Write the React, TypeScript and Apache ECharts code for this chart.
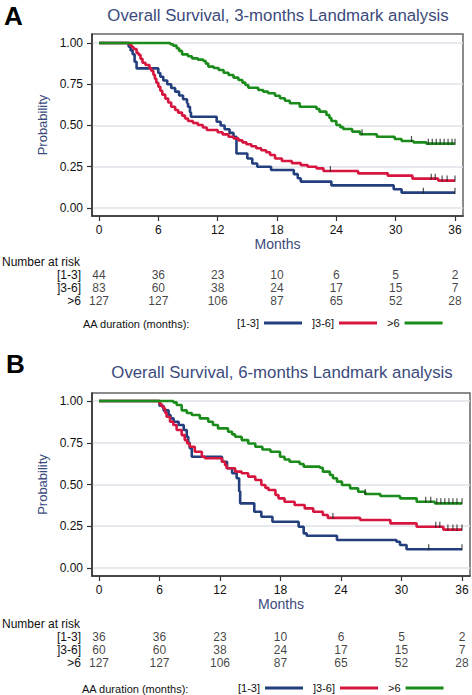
import React, { useEffect, useRef } from 'react';
import * as echarts from 'echarts';

// ---------- data ----------
const months = [0, 6, 12, 18, 24, 30, 36];
const probTicks = [0, 0.25, 0.5, 0.75, 1];
const groups = ['[1-3]', ']3-6]', '>6'];
const colors = ['#243f7e', '#d6163f', '#1b8c1b'];

const titleA = 'Overall Survival, 3-months Landmark analysis';
const titleB = 'Overall Survival, 6-months Landmark analysis';

// Panel A: Kaplan-Meier step points [month, probability]
const kmA_13 = [[0,1],[3.0,0.977],[3.2,0.955],[3.4,0.932],[3.6,0.886],[3.8,0.846],[6.0,0.818],[6.2,0.795],[6.5,0.773],[6.9,0.75],[7.3,0.727],[7.7,0.705],[8.1,0.682],[8.5,0.659],[8.9,0.636],[9.0,0.614],[9.2,0.58],[9.3,0.553],[11.9,0.523],[12.3,0.5],[12.7,0.477],[13.2,0.455],[13.6,0.432],[13.9,0.33],[15.0,0.30],[15.5,0.27],[16.0,0.25],[17.4,0.23],[19.7,0.205],[20.1,0.18],[20.4,0.16],[23.5,0.137],[29.8,0.114],[30.6,0.093],[36,0.093]];
const kmA_36 = [[0,1],[3.1,0.988],[3.3,0.976],[3.5,0.964],[3.8,0.94],[4.0,0.928],[4.2,0.904],[4.4,0.88],[4.7,0.867],[5.1,0.847],[5.3,0.831],[5.5,0.807],[5.65,0.783],[5.8,0.759],[6.0,0.735],[6.2,0.711],[6.4,0.687],[6.7,0.663],[7.0,0.639],[7.3,0.614],[7.7,0.594],[8.0,0.578],[8.4,0.56],[8.7,0.542],[9.0,0.527],[9.5,0.515],[10.0,0.503],[10.5,0.488],[10.9,0.473],[12.0,0.459],[12.5,0.446],[13.1,0.432],[13.6,0.422],[14.1,0.41],[14.5,0.398],[14.9,0.386],[15.4,0.374],[15.9,0.362],[16.4,0.35],[16.9,0.338],[17.3,0.321],[17.8,0.3],[18.5,0.285],[19.5,0.272],[20.4,0.26],[21.1,0.25],[22.0,0.24],[22.7,0.224],[26.2,0.21],[29.2,0.196],[31.7,0.178],[34.3,0.166],[36,0.166]];
const kmA_6 = [[0,1],[7.2,0.992],[7.5,0.984],[7.85,0.968],[8.1,0.952],[8.4,0.931],[9.0,0.92],[9.4,0.907],[10.0,0.899],[10.55,0.891],[10.8,0.875],[11.05,0.857],[11.6,0.848],[12.1,0.836],[12.6,0.82],[13.1,0.806],[13.6,0.79],[14.1,0.776],[14.5,0.76],[14.8,0.745],[15.1,0.729],[16.1,0.715],[16.6,0.705],[17.1,0.695],[17.8,0.68],[18.3,0.665],[18.8,0.65],[19.3,0.635],[20.3,0.614],[22.0,0.6],[22.3,0.584],[23.0,0.564],[23.3,0.545],[23.5,0.527],[24.0,0.503],[24.4,0.49],[24.7,0.479],[25.6,0.463],[26.4,0.447],[28.1,0.432],[29.9,0.418],[30.6,0.406],[31.8,0.398],[33.1,0.39],[36,0.39]];

// Panel B
const kmB_13 = [[0,1],[6.0,0.972],[6.4,0.944],[6.9,0.916],[7.1,0.896],[7.4,0.876],[7.9,0.856],[8.4,0.826],[8.7,0.786],[8.85,0.75],[9.0,0.717],[9.2,0.666],[12.2,0.636],[12.7,0.597],[13.2,0.567],[13.65,0.537],[13.9,0.46],[14.0,0.387],[15.4,0.337],[16.1,0.307],[17.2,0.277],[19.8,0.247],[20.3,0.207],[20.6,0.193],[23.6,0.168],[29.5,0.157],[29.85,0.138],[30.5,0.112],[36,0.112]];
const kmB_36 = [[0,1],[6.0,0.983],[6.2,0.967],[6.4,0.956],[6.55,0.93],[6.7,0.906],[7.04,0.876],[7.37,0.856],[7.7,0.826],[8.2,0.796],[8.5,0.766],[8.75,0.746],[9.0,0.726],[9.5,0.696],[10.2,0.666],[10.5,0.657],[12.2,0.636],[12.5,0.615],[12.66,0.597],[13.5,0.577],[14.15,0.567],[14.8,0.547],[15.5,0.527],[16.1,0.497],[16.5,0.48],[16.8,0.467],[17.5,0.437],[17.8,0.417],[18.4,0.397],[19.4,0.377],[20.4,0.357],[21.25,0.337],[22.2,0.317],[22.7,0.3],[25.9,0.287],[28.9,0.267],[31.5,0.247],[34.15,0.23],[36,0.23]];
const kmB_6 = [[0,1],[7.37,0.992],[7.7,0.976],[8.2,0.944],[8.7,0.928],[9.2,0.916],[10.0,0.896],[10.84,0.876],[11.3,0.856],[11.8,0.836],[12.8,0.816],[13.2,0.8],[13.5,0.786],[14.15,0.766],[14.8,0.746],[15.5,0.726],[16.2,0.71],[17.0,0.696],[17.95,0.666],[18.4,0.65],[18.9,0.636],[19.9,0.623],[20.3,0.607],[21.9,0.6],[22.2,0.577],[22.9,0.557],[23.2,0.537],[23.6,0.517],[24.1,0.497],[24.9,0.477],[25.7,0.457],[26.4,0.443],[27.9,0.431],[29.85,0.417],[31.5,0.397],[33.3,0.387],[36,0.387]];

// censoring marks
const censA_13 = [[32.8,0.093],[36,0.093]];
const censA_36 = [[23.4,0.224],[33.6,0.178],[34.0,0.178],[34.7,0.166],[35.2,0.166],[36,0.166]];
const censA_6 = [[26.6,0.447],[31.6,0.406],[33.3,0.39],[33.7,0.39],[34.1,0.39],[34.5,0.39],[34.9,0.39],[35.3,0.39],[35.7,0.39],[36,0.39]];
const censB_13 = [[32.7,0.112],[36,0.112]];
const censB_36 = [[23.2,0.3],[33.4,0.247],[33.8,0.247],[34.6,0.23],[35.1,0.23],[35.5,0.23],[36,0.23]];
const censB_6 = [[26.4,0.443],[32.4,0.397],[32.9,0.397],[33.5,0.387],[33.9,0.387],[34.3,0.387],[34.7,0.387],[35.1,0.387],[35.5,0.387],[36,0.387]];

// numbers at risk
const riskA_13 = [44, 36, 23, 10, 6, 5, 2];
const riskA_36 = [83, 60, 38, 24, 17, 15, 7];
const riskA_6 = [127, 127, 106, 87, 65, 52, 28];
const riskB_13 = [36, 36, 23, 10, 6, 5, 2];
const riskB_36 = [60, 60, 38, 24, 17, 15, 7];
const riskB_6 = [127, 127, 106, 87, 65, 52, 28];

const FONT = '"Liberation Sans", Arial, sans-serif';
const TITLE_COLOR = '#3b4a7c';

export default function App() {
  const ref = useRef<HTMLDivElement>(null);

  useEffect(() => {
    if (!ref.current) return;
    const chart = echarts.init(ref.current, null, { renderer: 'svg' });

    const panels = [
      { km: [kmA_13, kmA_36, kmA_6], cens: [censA_13, censA_36, censA_6], risk: [riskA_13, riskA_36, riskA_6] },
      { km: [kmB_13, kmB_36, kmB_6], cens: [censB_13, censB_36, censB_6], risk: [riskB_13, riskB_36, riskB_6] },
    ];

    const grids = [
      { left: 92, right: 9, top: 34, height: 182 },
      { left: 92, right: 9, top: 268.5, height: 39 },
      { left: 92, right: 2, top: 393, height: 183 },
      { left: 92, right: 2, top: 630.5, height: 39 },
    ];
    const xRange = [
      { min: -0.708, max: 36.809 },
      { min: -0.694, max: 36.793 },
    ];
    const yRange = [
      { min: -0.0485, max: 1.0545 },
      { min: -0.048, max: 1.048 },
    ];

    const xAxis: any[] = [];
    const yAxis: any[] = [];
    const series: any[] = [];

    panels.forEach((p, pi) => {
      const gPlot = pi * 2;
      const gRisk = pi * 2 + 1;
      xAxis[gPlot] = {
        type: 'value', gridIndex: gPlot, min: xRange[pi].min, max: xRange[pi].max,
        name: 'Months', nameLocation: 'middle', nameGap: 20,
        nameTextStyle: { color: TITLE_COLOR, fontSize: 14, fontFamily: FONT },
        axisLine: { show: true, onZero: false, lineStyle: { color: '#333', width: 1.6 } },
        axisTick: { show: true, length: 5, customValues: months, lineStyle: { color: '#333', width: 1.2 } },
        axisLabel: { customValues: months, margin: 8, fontSize: 12, color: '#111', fontFamily: FONT },
        splitLine: { show: false },
      };
      xAxis[gRisk] = {
        type: 'value', gridIndex: gRisk, min: xRange[pi].min, max: xRange[pi].max, show: false,
      };
      yAxis[gPlot] = {
        type: 'value', gridIndex: gPlot, min: yRange[pi].min, max: yRange[pi].max,
        name: 'Probability', nameLocation: 'middle', nameGap: 38,
        nameTextStyle: { color: TITLE_COLOR, fontSize: 13, fontFamily: FONT },
        axisLine: { show: true, onZero: false, lineStyle: { color: '#333', width: 1.6 } },
        axisTick: { show: true, length: 5, customValues: probTicks, lineStyle: { color: '#333', width: 1.2 } },
        axisLabel: { customValues: probTicks, margin: 9, fontSize: 12, color: '#111', fontFamily: FONT,
          formatter: (v: number) => v.toFixed(2) },
        splitLine: { show: true, lineStyle: { color: '#dfe2ea', width: 1.5 } },
      };
      yAxis[gRisk] = {
        type: 'category', gridIndex: gRisk, data: groups, inverse: true,
        axisLine: { show: false }, axisTick: { show: false }, splitLine: { show: false },
        axisLabel: { interval: 0, margin: 11, fontSize: 12, color: '#111', fontFamily: FONT },
      };

      p.km.forEach((d, gi) => {
        series.push({
          type: 'line', name: groups[gi], step: 'end', data: d,
          xAxisIndex: gPlot, yAxisIndex: gPlot,
          symbol: 'none', showSymbol: false, silent: true,
          color: colors[gi],
          lineStyle: { color: colors[gi], width: 2.6 },
          z: 3 + gi,
        });
      });
      p.cens.forEach((d, gi) => {
        series.push({
          type: 'scatter', name: 'cens' + pi + gi, data: d,
          xAxisIndex: gPlot, yAxisIndex: gPlot,
          symbol: 'rect', symbolSize: [1.2, 6], symbolOffset: [0, -2],
          itemStyle: { color: '#222' }, silent: true, z: 10,
        });
      });
      const riskData: any[] = [];
      p.risk.forEach((row, gi) => {
        row.forEach((v, mi) => riskData.push([months[mi], groups[gi], v]));
      });
      series.push({
        type: 'scatter', name: 'risk' + pi, data: riskData,
        xAxisIndex: gRisk, yAxisIndex: gRisk,
        symbolSize: 1, itemStyle: { color: 'rgba(0,0,0,0)' }, silent: true,
        encode: { x: 0, y: 1 },
        label: { show: true, position: 'inside', formatter: (pp: any) => String(pp.value[2]),
          fontSize: 12, color: '#111', fontFamily: FONT },
      });
    });

    const legendCommon = {
      data: groups, icon: 'rect', itemWidth: 38, itemHeight: 3, align: 'right', itemGap: 10,
      selectedMode: false, padding: 0,
      textStyle: { fontSize: 11, color: '#111', fontFamily: FONT },
    };

    const text = (x: number, y: number, t: string, style: any) => ({
      type: 'text', x, y, silent: true,
      style: { text: t, fontFamily: FONT, fill: '#111', verticalAlign: 'middle', ...style },
    });

    chart.setOption({
      animation: false,
      backgroundColor: '#ffffff',
      grid: grids.map((g, i) => ({
        ...g, show: i % 2 === 0, borderColor: '#666', borderWidth: 1.5, backgroundColor: 'transparent',
      })),
      xAxis, yAxis, series,
      legend: [
        { ...legendCommon, left: 237, top: 317.5 },
        { ...legendCommon, left: 238, top: 682.5 },
      ],
      graphic: [
        text(4, 16, 'A', { fontSize: 26, fontWeight: 'bold', fill: '#000' }),
        text(278, 15, titleA, { fontSize: 16.8, fill: TITLE_COLOR, align: 'center' }),
        text(2, 262, 'Number at risk', { fontSize: 12 }),
        text(83, 324, 'AA duration (months):', { fontSize: 11 }),
        text(6, 364, 'B', { fontSize: 26, fontWeight: 'bold', fill: '#000' }),
        text(282, 372, titleB, { fontSize: 16.8, fill: TITLE_COLOR, align: 'center' }),
        text(2, 624, 'Number at risk', { fontSize: 12 }),
        text(82, 689, 'AA duration (months):', { fontSize: 11 }),
      ],
    });

    return () => chart.dispose();
  }, []);

  return (
    <div
      ref={ref}
      style={{ position: 'absolute', left: 0, top: 0, width: 472, height: 695, background: '#fff' }}
    />
  );
}
